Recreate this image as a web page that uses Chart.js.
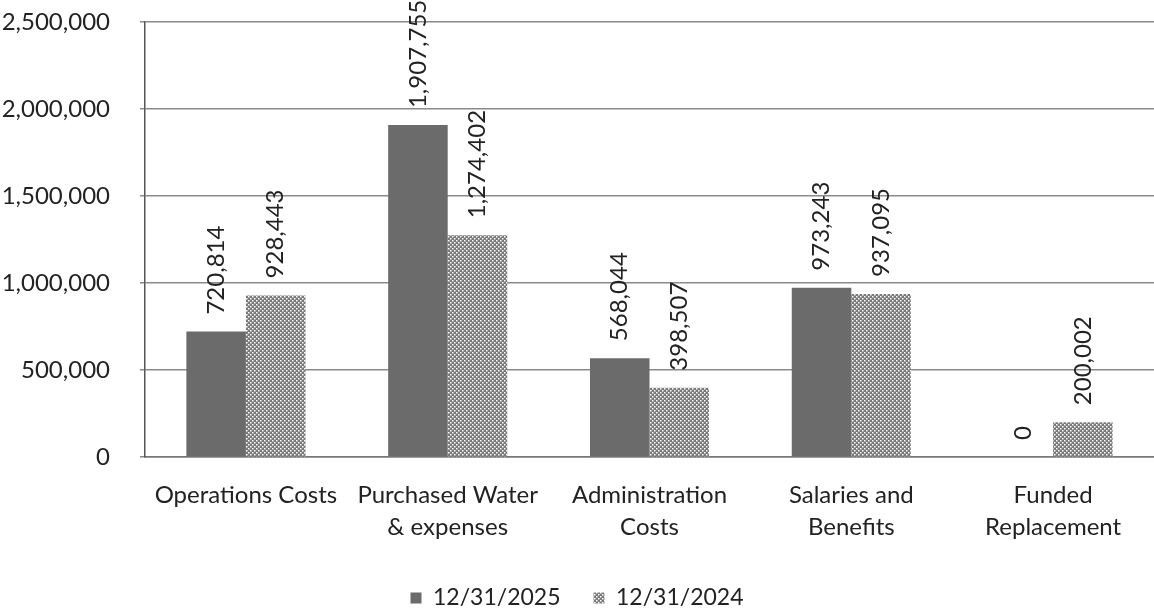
<!DOCTYPE html>
<html>
<head>
<meta charset="utf-8">
<script src="https://cdn.jsdelivr.net/npm/chart.js@4"></script>
<style>
  html, body { margin: 0; padding: 0; background: #fff; }
  #wrap { width: 1154px; height: 613px; }
</style>
</head>
<body>
<div id="wrap"><canvas id="chart" width="1154" height="613"></canvas></div>
<script>
let categories = ['Operations Costs', ['Purchased Water', '& expenses'], ['Administration', 'Costs'], ['Salaries and', 'Benefits'], ['Funded', 'Replacement']];
let y2025 = [720814, 1907755, 568044, 973243, 0];
let y2024 = [928443, 1274402, 398507, 937095, 200002];
let seriesNames = ['12/31/2025', '12/31/2024'];
let yTicks = [0, 500000, 1000000, 1500000, 2000000, 2500000];

let font = 'Lato, "Open Sans", sans-serif';

// checkered fill for the 2024 bars
let makePattern = () => {
  let c = document.createElement('canvas');
  c.width = 4; c.height = 4;
  let x = c.getContext('2d');
  x.fillStyle = '#7a7a7a';
  x.fillRect(0, 0, 4, 4);
  x.fillStyle = '#ffffff';
  x.fillRect(0, 0, 1.5, 1.5);
  x.fillRect(2, 2, 1.5, 1.5);
  return x.createPattern(c, 'repeat');
};
let checker = makePattern();

let valueLabels = {
  id: 'valueLabels',
  beforeLayout(chart) {
    // legend sits low with a wide gap between items
    let lg = chart.legend;
    if (!lg._fitPatched) {
      let fit = lg.fit;
      lg.fit = function () { fit.call(this); this.height = 59.5; };
      lg._fitPatched = true;
    }
  },
  afterDatasetsDraw(chart) {
    let ctx = chart.ctx;
    ctx.save();
    ctx.font = '24px ' + font;
    ctx.fillStyle = '#222';
    ctx.textAlign = 'left';
    ctx.textBaseline = 'middle';
    chart.data.datasets.forEach((ds, di) => {
      chart.getDatasetMeta(di).data.forEach((bar, i) => {
        ctx.save();
        ctx.translate(bar.x, bar.y - 17);
        ctx.rotate(-Math.PI / 2);
        ctx.fillText(ds.data[i].toLocaleString('en-US'), 0, 0);
        ctx.restore();
      });
    });
    ctx.restore();
  }
};

new Chart(document.getElementById('chart'), {
  type: 'bar',
  data: {
    labels: categories,
    datasets: [{
      label: seriesNames[0],
      data: y2025,
      backgroundColor: '#6b6b6b',
      barPercentage: 1,
      categoryPercentage: 0.59
    }, {
      label: seriesNames[1],
      data: y2024,
      backgroundColor: checker,
      barPercentage: 1,
      categoryPercentage: 0.59
    }]
  },
  options: {
    responsive: false,
    animation: { duration: 0 },
    events: [],
    layout: { padding: 0 },
    plugins: {
      legend: {
        position: 'bottom',
        labels: {
          font: { family: font, size: 23 },
          color: '#222',
          boxWidth: 11,
          boxHeight: 11,
          padding: 33
        }
      },
      tooltip: { enabled: false }
    },
    scales: {
      x: {
        grid: { display: false },
        border: { color: '#777', width: 1.5 },
        ticks: {
          font: { family: font, size: 24, lineHeight: 1.33 },
          color: '#222',
          padding: 14,
          maxRotation: 0
        },
        afterFit(scale) { scale.height = 96.5; }
      },
      y: {
        min: 0,
        max: 2500000,
        afterBuildTicks(scale) { scale.ticks = yTicks.map(v => ({ value: v })); },
        grid: { color: '#8a8a8a', lineWidth: 1.5, tickLength: 5 },
        border: { color: '#555', width: 1.5 },
        ticks: {
          font: { family: font, size: 24 },
          color: '#222',
          padding: 30,
          callback: v => v.toLocaleString('en-US')
        },
        afterFit(scale) {
          scale.width = 145;
          scale.paddingTop = 22;
          scale.paddingBottom = 0;
        }
      }
    }
  },
  plugins: [valueLabels]
});
</script>
</body>
</html>
